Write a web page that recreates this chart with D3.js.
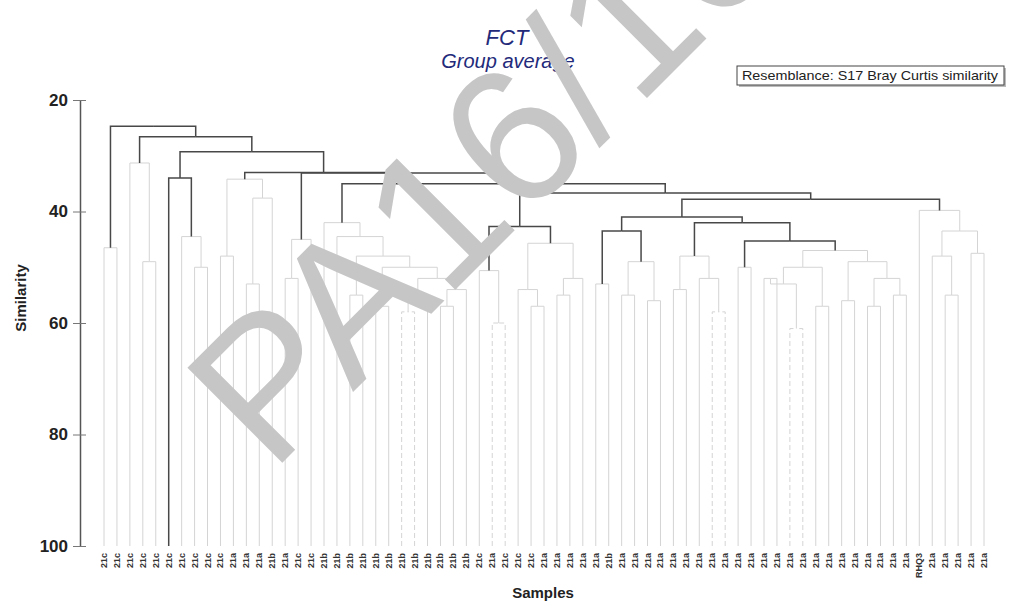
<!DOCTYPE html>
<meta charset="utf-8">
<head>
	<style type="text/css">
		body { margin: 0; background: #fff; }
		text { font-family: "Liberation Sans", Arial, sans-serif; }
		.tick-lbl { font-size: 17px; font-weight: bold; fill: #222; }
		.axis-title { font-size: 15px; font-weight: bold; fill: #222; }
		.sample { font-size: 9px; font-weight: bold; fill: #333; }
	</style>
	<title>FCT Group average</title>
</head>
<body>
<svg width="1010" height="608" id="svg1"></svg>
<script src="https://d3js.org/d3.v7.min.js"></script>
<script>
	// sample names, left to right
	const sampleLabels = [
		"21c","21c","21c","21c","21c","21c","21c","21c","21c","21c",
		"21a","21a","21a","21b","21a","21c","21c",
		"21b","21b","21b","21b","21b","21b","21b","21b","21b","21b","21b","21b",
		"21c","21a","21c","21c","21c","21a","21a","21a","21a","21a","21b",
		"21a","21a","21a","21a","21a","21a","21a","21a","21a","21a","21a","21a",
		"21a","21a","21a","21a","21a","21a","21a","21a","21a","21a","21a",
		"RHQ3","21a","21a","21a","21a","21a"
	];

	// hclust style merges: negative = sample number, positive = earlier merge
	const mergeLeft  = [-1,-4,-3,-8,-7,-6,-10,-12,8,7,-15,11,-20,-22,-24,15,-27,17,16,14,13,-19,-18,
		-31,-30,-34,-33,-36,28,27,25,-39,-41,-43,33,32,-45,-48,-47,37,-50,-52,-54,42,-56,44,-58,-60,-62,48,47,46,41,40,36,
		-66,-68,-65,58,-64,55,31,23,12,10,6,3,1];
	const mergeRight = [-2,-5,2,-9,4,5,-11,-13,-14,9,-16,-17,-21,-23,-25,-26,-28,-29,18,19,20,21,22,
		-32,24,-35,26,-37,-38,29,30,-40,-42,-44,34,35,-46,-49,38,39,-51,-53,-55,43,-57,45,-59,-61,-63,49,50,51,52,53,54,
		-67,-69,56,57,59,60,61,62,63,64,65,66,67];
	const mergeSim   = [46.5,49,31.3,50,44.5,34,48,53,37.6,34.2,52,45,55,57,58,55,57,54,52,50,48,44.5,42,
		60,50.6,57,54,55,52,45.7,42.7,53,55,56,49,43.5,54,58,52,48,50,52,61,53,57,50,56,57,55,52,49,47,45.3,42,41,
		55,47.5,48,43.5,39.8,37.8,36.7,35,33.1,33.0,29.3,26.6,24.7];

	// merges separated by SIMPROF (drawn solid black)
	const simprofSignificant = [68,67,66,6,65,64,63,62,31,61,55,36,54,53];

	const yTicks = [20, 40, 60, 80, 100];

	const title = "FCT";
	const subTitle = "Group average";
	const resemblance = "Resemblance: S17 Bray Curtis similarity";
	const watermark = "PA16/16";

	const svg1 = d3.select('#svg1');

	const yScale = d3.scaleLinear().domain([20, 100]).range([100, 546]);
	const xScale = d3.scalePoint()
		.domain(d3.range(1, sampleLabels.length + 1))
		.range([104, 984]);

	// build the tree from the merge table
	const buildNode = id => {
		if (id < 0) return { leaf: -id, name: sampleLabels[-id - 1] };
		return {
			merge: id,
			sim: mergeSim[id - 1],
			children: [buildNode(mergeLeft[id - 1]), buildNode(mergeRight[id - 1])]
		};
	};
	const root = d3.hierarchy(buildNode(mergeLeft.length));

	root.eachAfter(d => {
		if (d.children) {
			d.x = d3.mean(d.children, c => c.x);
			d.y = yScale(d.data.sim);
		} else {
			d.x = xScale(d.data.leaf);
			d.y = yScale(100);
		}
	});

	const g1 = svg1.append('g');

	// faint branches first, dark on top
	const links = root.links().map(l => ({
		...l,
		strong: simprofSignificant.includes(l.source.data.merge)
	}));
	links.sort((a, b) => a.strong - b.strong);

	g1.selectAll('.branch')
		.data(links)
		.enter()
		.append('path')
			.attr('class', 'branch')
			.attr('fill', 'none')
			.attr('d', l => `M${l.target.x},${l.target.y}V${l.source.y}H${l.source.x}`)
			.attr('stroke', l => l.strong ? '#484848' : '#d4d4d4')
			.attr('stroke-width', l => l.strong ? 1.5 : 1)
			.attr('stroke-dasharray', l => (!l.strong && l.source.data.sim >= 58) ? '5,3' : null);

	// y axis
	const yAxis = d3.axisLeft(yScale)
		.tickValues(yTicks)
		.tickSizeInner(7)
		.tickSizeOuter(0)
		.tickPadding(5);

	const yAxisG = svg1.append('g')
		.attr('transform', 'translate(80,0)')
		.call(yAxis);
	yAxisG.select('.domain').attr('stroke', '#555').attr('stroke-width', 1.5);
	yAxisG.selectAll('.tick line').attr('x1', 6).attr('stroke', '#777');
	yAxisG.selectAll('.tick text').attr('class', 'tick-lbl');

	svg1.append('text')
		.attr('class', 'axis-title')
		.attr('transform', 'translate(26,298) rotate(-90)')
		.attr('text-anchor', 'middle')
		.text('Similarity');

	// sample labels
	svg1.selectAll('.sample')
		.data(sampleLabels)
		.enter()
		.append('text')
			.attr('class', 'sample')
			.attr('transform', (d, i) => `translate(${xScale(i + 1) + 3},553) rotate(-90)`)
			.attr('text-anchor', 'end')
			.text(d => d);

	svg1.append('text')
		.attr('class', 'axis-title')
		.attr('x', 543)
		.attr('y', 598)
		.attr('text-anchor', 'middle')
		.text('Samples');

	// titles
	svg1.append('text')
		.attr('x', 507)
		.attr('y', 45)
		.attr('text-anchor', 'middle')
		.attr('font-style', 'italic')
		.attr('font-size', '22px')
		.attr('fill', '#232a7a')
		.text(title);

	svg1.append('text')
		.attr('x', 508)
		.attr('y', 68)
		.attr('text-anchor', 'middle')
		.attr('font-style', 'italic')
		.attr('font-size', '20px')
		.attr('fill', '#232a7a')
		.text(subTitle);

	// resemblance box
	svg1.append('rect')
		.attr('x', 739).attr('y', 68).attr('width', 267).attr('height', 19)
		.attr('fill', '#bbb');
	svg1.append('rect')
		.attr('x', 737).attr('y', 66).attr('width', 267).attr('height', 19)
		.attr('fill', '#fff').attr('stroke', '#444').attr('stroke-width', 1);
	svg1.append('text')
		.attr('x', 742)
		.attr('y', 80)
		.attr('font-size', '13px')
		.attr('textLength', 256)
		.attr('lengthAdjust', 'spacingAndGlyphs')
		.attr('fill', '#222')
		.text(resemblance);

	// scanned document watermark
	svg1.append('text')
		.attr('transform', 'translate(271,474) rotate(-45)')
		.attr('font-size', '195px')
		.attr('fill', '#c6c6c6')
		.text(watermark);
</script>
</body>
